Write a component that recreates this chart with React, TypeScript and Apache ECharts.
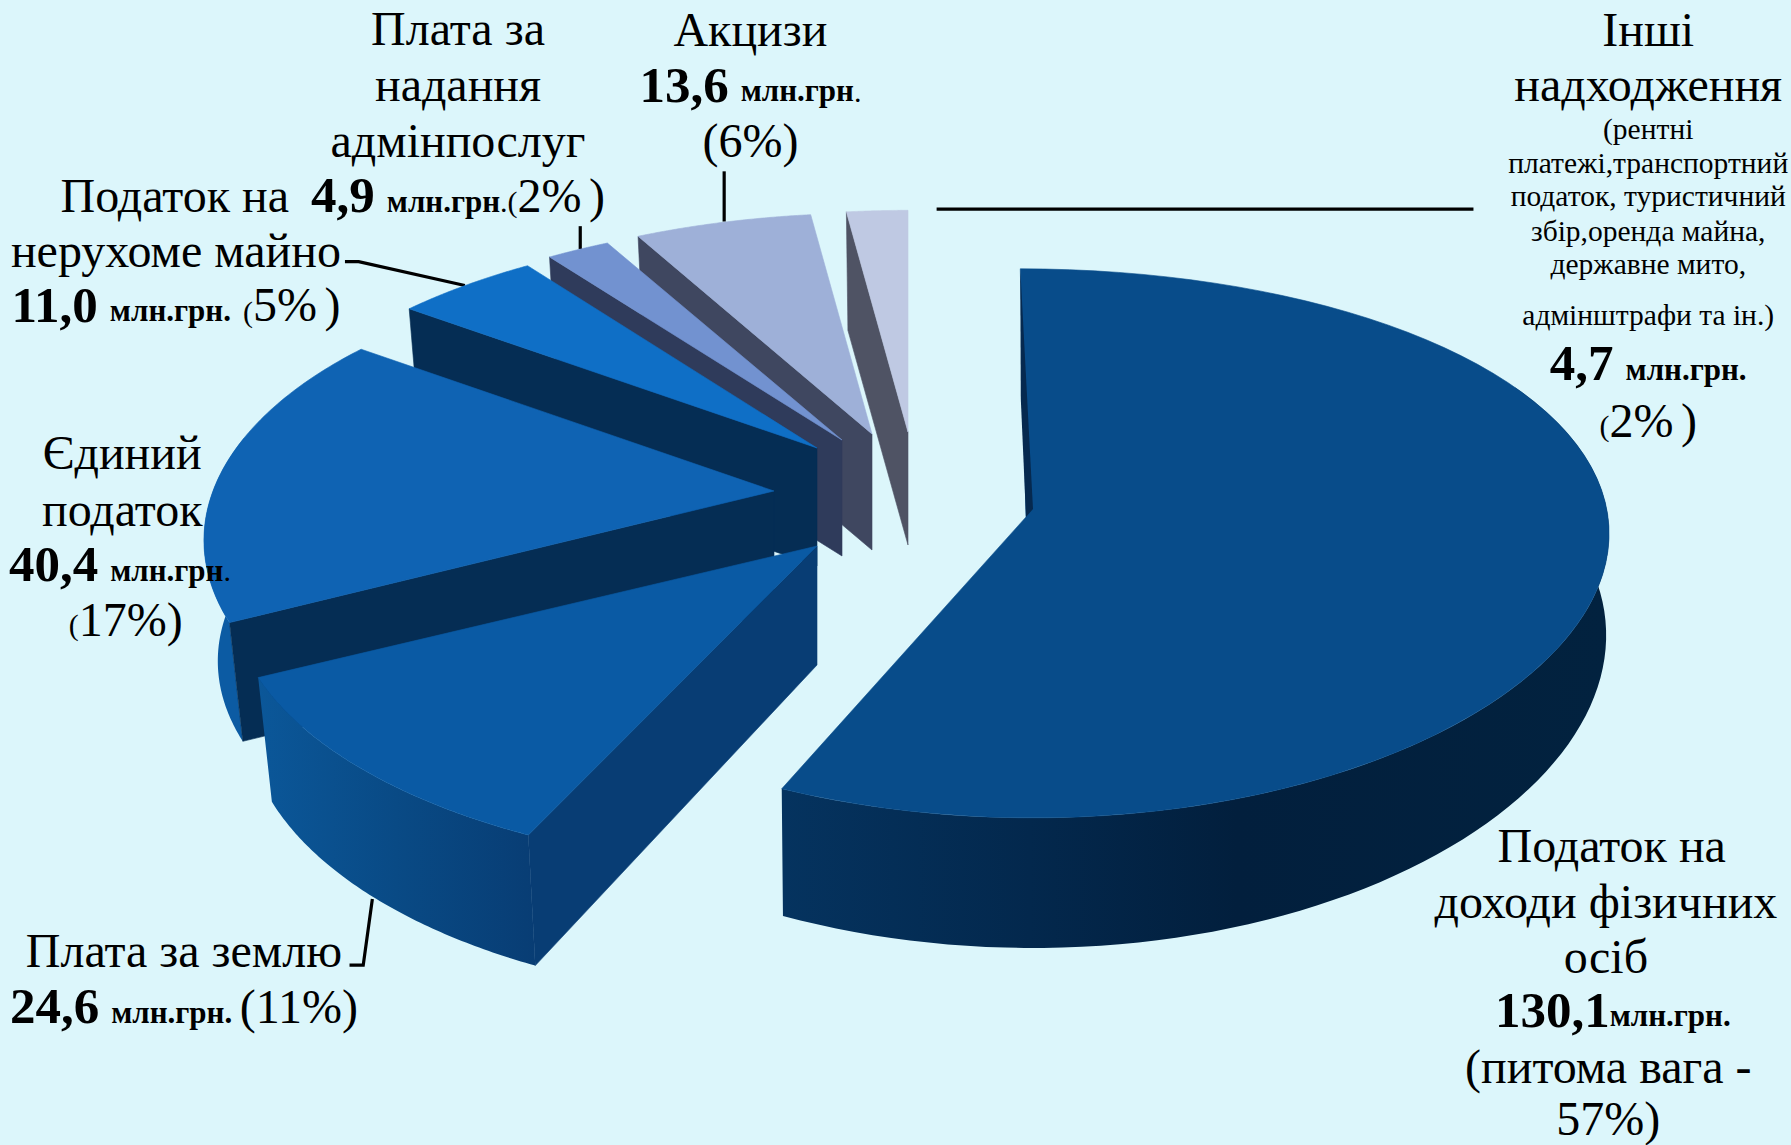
import React, { useEffect, useRef } from "react";
import * as echarts from "echarts";

const categories = [
  "Податок на доходи фізичних осіб",
  "Плата за землю",
  "Єдиний податок",
  "Податок на нерухоме майно",
  "Плата за надання адмінпослуг",
  "Акцизи",
  "Інші надходження",
];
const values = [130.1, 24.6, 40.4, 11.0, 4.9, 13.6, 4.7];
const topColors = ["#084C8A", "#0A5AA4", "#0F63B3", "#0F6FC6", "#7292D0", "#9EB0D8", "#BFC9E3"];
const cutColors = ["#03264A", "#083D74", "#052D54", "#052D54", "#2F3B5B", "#3F4760", "#4F5364"];

// Where each exploded slice sits: apex, radii, perspective, wall height and scale, skew, ring offset
const sliceLayout = [
  { ax: 1026, ay: 517, rx: 582, ry: 272, p: 0.096, px: 0.05, h: 100, sx: 0.995, sy: 1.1, skew: 0.023, ox: 0 },
  { ax: 817, ay: 546, rx: 565, ry: 265, p: 0.18, px: 0.18, h: 119, sx: 0.975, sy: 1.04, skew: 0, ox: -11 },
  { ax: 774, ay: 491, rx: 545, ry: 265, p: 0.18, px: 0.18, h: 122, sx: 0.975, sy: 0.975, skew: 0, ox: -16 },
  { ax: 817, ay: 448, rx: 566, ry: 263, p: 0.2, px: 0.2, h: 118, sx: 0.975, sy: 0.975, skew: 0, ox: 0 },
  { ax: 842, ay: 440, rx: 564, ry: 264, p: 0.2, px: 0.2, h: 116, sx: 0.975, sy: 0.975, skew: 0, ox: -4 },
  { ax: 872, ay: 434, rx: 572, ry: 265, p: 0.2, px: 0.2, h: 116, sx: 0.975, sy: 0.975, skew: 0, ox: 0 },
  { ax: 908, ay: 432, rx: 575, ry: 266, p: 0.2, px: 0.2, h: 113, sx: 0.975, sy: 0.975, skew: 0, ox: 0 },
];

const total = values.reduce((a, b) => a + b, 0);
const startAngles: number[] = [];
values.reduce((acc, v, i) => {
  startAngles[i] = (acc / total) * 360;
  return acc + v;
}, 0);

const FONT = '"Liberation Serif", serif';
const S = 1791 / 1568;

type Line = [string, number, number];
// text, centre x and middle y, in the layout's units
const textLines: Line[] = [
  ["Плата за", 401, 25],
  ["надання", 401, 74],
  ["адмінпослуг", 401, 123],
  ["{b|4,9} {u|млн.грн}{s|.(}2%{s| })", 401, 171],
  ["Податок на", 153, 171],
  ["нерухоме майно", 154, 219],
  ["{b|11,0} {u|млн.грн.} {s|(}5%{s| })", 154, 267],
  ["Акцизи", 657, 26],
  ["{b|13,6} {u|млн.грн}{s|.}", 657, 74],
  ["(6%)", 657, 123],
  ["Єдиний", 107, 396],
  ["податок", 107, 446],
  ["{b|40,4} {u|млн.грн}{s|.}", 105, 494],
  ["{s|(}17%)", 110, 542],
  ["Плата за землю", 161, 832],
  ["{b|24,6} {u|млн.грн.}{s| }(11%)", 161, 881],
  ["Податок на", 1411, 740],
  ["доходи фізичних", 1406, 789],
  ["осіб", 1406, 837],
  ["{b|130,1}{u|млн.грн.}", 1412, 884],
  ["(питома вага -", 1408, 934],
  ["57%)", 1408, 979],
  ["Інші", 1443, 26],
  ["надходження", 1443, 74],
  ["{b|4,7} {u|млн.грн.}", 1443, 318],
  ["{s|(}2%{s| })", 1443, 368],
];
const smallLines: Line[] = [
  ["(рентні", 1443, 113],
  ["платежі,транспортний", 1443, 143],
  ["податок, туристичний", 1443, 172],
  ["збір,оренда майна,", 1443, 202],
  ["державне мито,", 1443, 231],
  ["адмінштрафи та ін.)", 1443, 276],
];
const leaders: number[][][] = [
  [[820, 183], [1290, 183]],
  [[634, 150], [634, 194]],
  [[508, 198], [508, 218]],
  [[302, 229], [314, 229], [407, 250]],
  [[326, 787], [318, 845], [306, 845]],
];

const rich = {
  b: { fontFamily: FONT, fontWeight: "bold", fontSize: 51, fill: "#000" },
  u: { fontFamily: FONT, fontWeight: "bold", fontSize: 31, fill: "#000", verticalAlign: "bottom", padding: [0, 0, 4, 0] },
  s: { fontFamily: FONT, fontSize: 30, fill: "#000", verticalAlign: "bottom", padding: [0, 0, 4, 0] },
};

function textEl(l: Line, size: number) {
  return {
    type: "text",
    x: l[1] * S,
    y: l[2] * S,
    z: 20,
    silent: true,
    style: {
      text: l[0],
      fontFamily: FONT,
      fontSize: size,
      fill: "#000",
      textAlign: "center",
      textVerticalAlign: "middle",
      rich,
    },
  };
}

function point(i: number, deg: number, bottom: boolean) {
  const L = sliceLayout[i];
  const t = (deg * Math.PI) / 180;
  const c = Math.cos(t);
  let dy = (-L.ry * c) / (1 + L.p * c);
  let dx = (L.rx * Math.sin(t)) / (1 + L.px * c) + L.skew * dy;
  if (bottom) {
    dx *= L.sx;
    dy = dy * L.sy + L.h;
  }
  return [L.ax + dx + L.ox, L.ay + dy];
}

function arc(i: number, from: number, to: number, bottom: boolean) {
  const n = 80;
  const pts: number[][] = [];
  for (let j = 0; j <= n; j++) pts.push(point(i, from + ((to - from) * j) / n, bottom));
  return pts;
}

function poly(points: number[][], fill: any, stroke?: string) {
  return {
    type: "polygon",
    shape: { points },
    style: { fill, stroke: stroke || "none", lineWidth: stroke ? 0.6 : 0 },
  };
}

function grad(stops: [number, string][]) {
  return {
    type: "linear",
    x: 0,
    y: 0,
    x2: 1,
    y2: 0,
    colorStops: stops.map(([offset, color]) => ({ offset, color })),
  };
}

const wallFills: any = {
  0: grad([
    [0, "#05335F"],
    [0.3, "#03284D"],
    [0.55, "#021F3D"],
    [1, "#02223F"],
  ]),
  1: grad([
    [0, "#0B5799"],
    [0.5, "#094A85"],
    [1, "#083D74"],
  ]),
  2: "#0C5BA3",
};

function renderItem(_: any, api: any) {
  const i = api.value(0);
  const v = api.value(1);
  const start = startAngles[i];
  const end = start + (v / total) * 360;
  const L = sliceLayout[i];
  const apexT = [L.ax, L.ay];
  const apexB = [L.ax, L.ay + L.h];
  const children: any[] = [];

  // outer wall: only the part that faces the viewer
  const wf = Math.max(start, i === 0 ? 60 : 90);
  const wt = Math.min(end, 282);
  if (wt > wf && i < 3) {
    const top = arc(i, wf, wt, false);
    const bot = arc(i, wf, wt, true).reverse();
    children.push(poly(top.concat(bot), wallFills[i]));
  }
  // cut face on the slice's starting edge
  if (i > 0) {
    children.push(
      poly([apexT, apexB, point(i, start, true), point(i, start, false)], cutColors[i], cutColors[i])
    );
  }
  // top face
  children.push(poly([apexT].concat(arc(i, start, end, false)), topColors[i], topColors[i]));
  // sliver of the first slice's inner face
  if (i === 0) {
    const c = point(0, 0, false);
    children.push(
      poly([c, [apexT[0] + 7, apexT[1] - 8], apexT, [c[0] + 0.5, c[1] + 130]], "#06294F")
    );
  }
  return { type: "group", children };
}

export default function App() {
  const ref = useRef<HTMLDivElement>(null);
  useEffect(() => {
    const chart = echarts.init(ref.current!, undefined, { renderer: "svg" });
    const order = values.map((_, i) => i).reverse();
    chart.setOption({
      animation: false,
      backgroundColor: "#DCF6FB",
      series: [
        {
          type: "custom",
          coordinateSystem: "none",
          silent: true,
          z: 5,
          renderItem,
          data: order.map((i) => ({ name: categories[i], value: [i, values[i]] })),
        },
      ],
      graphic: {
        elements: [
          ...leaders.map((pts) => ({
            type: "polyline",
            z: 1,
            silent: true,
            shape: { points: pts.map(([x, y]) => [x * S, y * S]) },
            style: { stroke: "#000", lineWidth: 3.2, fill: "none" },
          })),
          ...textLines.map((l) => textEl(l, 48)),
          ...smallLines.map((l) => textEl(l, 29.5)),
        ],
      },
    });
    return () => chart.dispose();
  }, []);
  return (
    <div
      ref={ref}
      style={{ position: "absolute", left: 0, top: 0, width: 1791, height: 1145 }}
    />
  );
}
